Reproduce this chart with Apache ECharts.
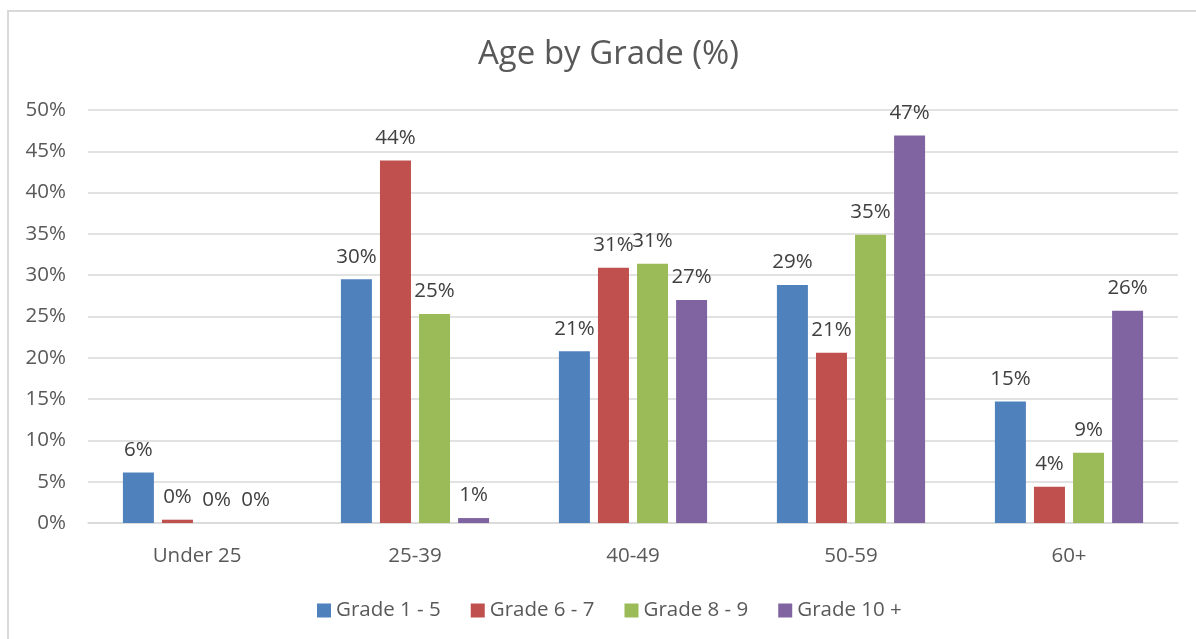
<!DOCTYPE html>
<html>
<head>
<meta charset="utf-8">
<script src="https://cdn.jsdelivr.net/npm/echarts@6/dist/echarts.min.js"></script>
<style>
  html, body { margin: 0; padding: 0; background: #fff; }
  #frame {
    position: absolute; left: 7px; top: 10px; width: 1300px; height: 700px;
    border: 2px solid #d9d9d9; box-sizing: border-box;
  }
  #chart { position: absolute; left: 0; top: 0; width: 1196px; height: 639px; }
</style>
</head>
<body>
<div id="frame"></div>
<div id="chart"></div>
<script>
// chart data
const categories = ['Under 25', '25-39', '40-49', '50-59', '60+']
const grade1to5 = [6.1, 29.5, 20.8, 28.8, 14.7]
const grade6to7 = [0.4, 43.9, 30.9, 20.6, 4.4]
const grade8to9 = [0, 25.3, 31.4, 34.9, 8.5]
const grade10plus = [0, 0.6, 27.0, 46.9, 25.7]

const seriesNames = ['Grade 1 - 5', 'Grade 6 - 7', 'Grade 8 - 9', 'Grade 10 +']
const seriesValues = [grade1to5, grade6to7, grade8to9, grade10plus]
const colors = ['#4f81bd', '#c0504d', '#9bbb59', '#8064a2']

const fontFamily = '"Open Sans", "Noto Sans", sans-serif'
const textGray = '#595959'

const chart = echarts.init(document.getElementById('chart'), null, { renderer: 'canvas' })

const option = {
  backgroundColor: 'transparent',
  color: colors,
  textStyle: { fontFamily },
  title: {
    text: 'Age by Grade (%)',
    left: 473,
    top: 33,
    textStyle: { fontSize: 33, fontWeight: 'normal', color: textGray, fontFamily }
  },
  legend: {
    bottom: 13,
    left: 312,
    icon: 'rect',
    itemWidth: 14,
    itemHeight: 14,
    itemGap: 30,
    textStyle: { fontSize: 20.5, color: textGray, fontFamily },
    data: seriesNames
  },
  grid: { left: 88, right: 18, top: 110, bottom: 116 },
  xAxis: {
    type: 'category',
    data: categories,
    axisTick: { show: false },
    axisLine: { lineStyle: { color: '#d9d9d9', width: 1.5 } },
    axisLabel: { fontSize: 20.5, color: textGray, margin: 23, fontFamily }
  },
  yAxis: {
    type: 'value',
    min: 0,
    max: 50,
    interval: 5,
    axisLabel: { fontSize: 20.5, color: textGray, margin: 22, formatter: '{value}%', fontFamily },
    axisLine: { show: false },
    axisTick: { show: false },
    splitLine: { lineStyle: { color: '#d9d9d9', width: 1.5 } }
  },
  series: seriesNames.map((name, i) => ({
    name,
    type: 'bar',
    data: seriesValues[i],
    barWidth: 31,
    barGap: '26%',
    itemStyle: { color: colors[i] },
    label: {
      show: true,
      position: 'top',
      distance: 12,
      fontSize: 20.5,
      color: '#404040',
      fontFamily,
      formatter: p => Math.round(p.value) + '%'
    }
  }))
}

chart.setOption(option)
</script>
</body>
</html>
